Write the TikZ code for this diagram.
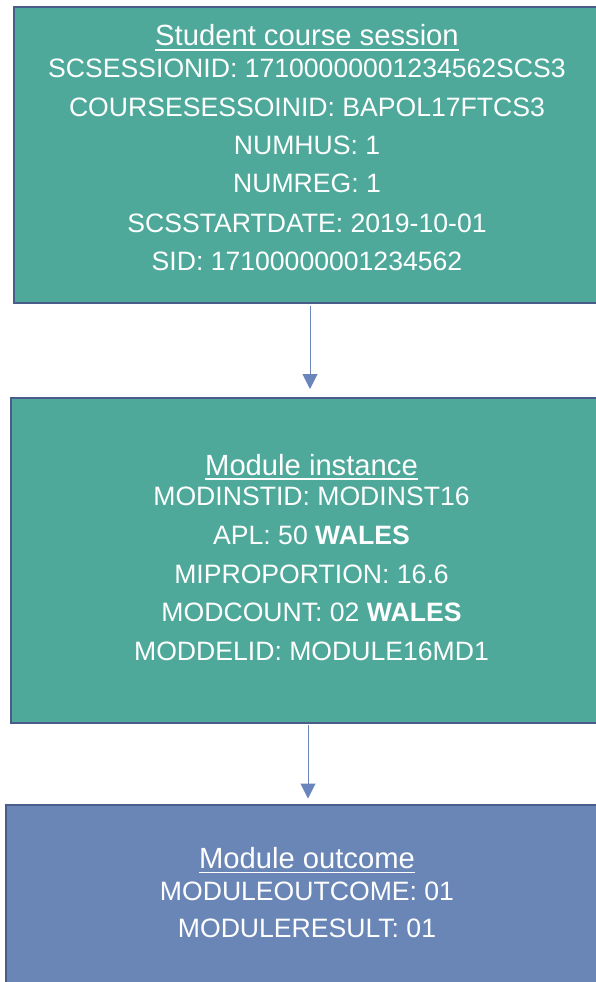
\documentclass[tikz,border=0pt]{standalone}
\usepackage{fontspec}
\setmainfont{Liberation Sans}
\usetikzlibrary{arrows.meta}
\definecolor{tealfill}{HTML}{4EA99A}
\definecolor{bluefill}{HTML}{6A86B7}
\definecolor{edgec}{HTML}{4A5C8A}
\definecolor{arrowc}{HTML}{6A84BC}
\begin{document}
\begin{tikzpicture}[x=1pt,y=-1pt,
  box/.style={draw=edgec,line width=2.5pt,rectangle,anchor=north west,inner sep=0pt,outer sep=0pt,minimum width=600pt},
  txt/.style={text=white,anchor=base,inner sep=0pt,outer sep=0pt,font=\fontsize{26.6}{30}\selectfont},
  ttl/.style={txt,font=\fontsize{29.2}{32}\selectfont},
  ulline/.style={draw=white,line width=1.7pt},
  arr/.style={draw=arrowc,line width=1pt,-{Triangle[width=15pt,length=15pt]}}]
\useasboundingbox (0,0) rectangle (596,982);
\clip (0,0) rectangle (596,982);
\fill[white] (0,0) rectangle (596,982);
% boxes
\node[box,fill=tealfill,minimum height=296pt] (b1) at (14,7) {};
\node[box,fill=tealfill,minimum height=325pt] (b2) at (11,398) {};
\node[box,fill=bluefill,minimum height=200pt] (b3) at (6,805) {};
% box 1 text
\node[ttl] (t1) at (307,45.7) {Student course session};
\draw[ulline] ([yshift=-4.3pt]t1.base west) -- ([yshift=-4.3pt]t1.base east);
\node[txt] (l11) at (307,77.3) {SCSESSIONID: 17100000001234562SCS3};
\node[txt] (l12) at (307,116) {COURSESESSOINID: BAPOL17FTCS3};
\node[txt] (l13) at (307,154) {NUMHUS: 1};
\node[txt] (l14) at (307,192.7) {NUMREG: 1};
\node[txt] (l15) at (307,232.3) {SCSSTARTDATE: 2019-10-01};
\node[txt] (l16) at (307,270) {SID: 17100000001234562};
% box 2 text
\node[ttl] (t2) at (311.5,475) {Module instance};
\draw[ulline] ([yshift=-4.3pt]t2.base west) -- ([yshift=-4.3pt]t2.base east);
\node[txt] (l21) at (311.5,505.7) {MODINSTID: MODINST16};
\node[txt] (l22) at (311.5,544.3) {APL: 50 \textbf{WALES}};
\node[txt] (l23) at (311.5,583.3) {MIPROPORTION: 16.6};
\node[txt] (l24) at (311.5,621.7) {MODCOUNT: 02 \textbf{WALES}};
\node[txt] (l25) at (311.5,660.7) {MODDELID: MODULE16MD1};
% box 3 text
\node[ttl] (t3) at (307,868.3) {Module outcome};
\draw[ulline] ([yshift=-4.3pt]t3.base west) -- ([yshift=-4.3pt]t3.base east);
\node[txt] (l31) at (307,900) {MODULEOUTCOME: 01};
\node[txt] (l32) at (307,937.7) {MODULERESULT: 01};
% connectors
\coordinate (x1) at (310,0);
\coordinate (x2) at (308,0);
\draw[arr] ([yshift=-3pt]b1.south -| x1) -- ([yshift=9pt]b2.north -| x1);
\draw[arr] ([yshift=-2pt]b2.south -| x2) -- ([yshift=6.5pt]b3.north -| x2);
\end{tikzpicture}
\end{document}
